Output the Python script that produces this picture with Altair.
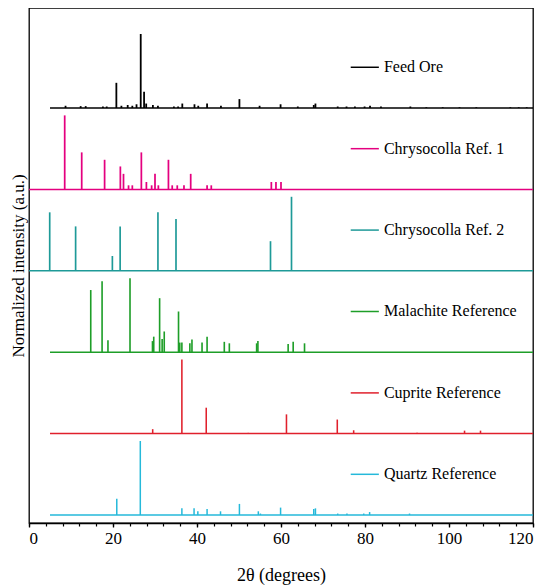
import altair as alt
import pandas as pd

names = ["Feed Ore", "Chrysocolla Ref. 1", "Chrysocolla Ref. 2",
         "Malachite Reference", "Cuprite Reference", "Quartz Reference"]
colors = ["#000000", "#E4007F", "#1E9A98", "#1E9E28", "#E0202C", "#25B9DA"]
offsets = [5.5, 4.4, 3.3, 2.2, 1.1, 0.0]
base_start = [5, 0, 0, 5, 5, 5]
base_end = [120, 120, 120, 120, 120, 120]

feed_theta = [8.7, 12.3, 13.5, 17.6, 18.5, 20.8, 22.0, 23.5, 24.6, 25.6, 26.6, 27.4, 27.9,
              29.5, 30.7, 34.5, 35.5, 36.5, 39.4, 40.3, 42.4, 45.7, 50.1, 54.9, 59.9, 64.0,
              67.8, 68.2, 73.5, 75.6, 77.6, 79.9, 81.2, 83.8, 90.8, 94.6, 98.5, 102.5, 106.5,
              114.6, 116.6, 118.5]
feed_int = [0.03, 0.025, 0.025, 0.02, 0.02, 0.34, 0.03, 0.04, 0.03, 0.05, 1.0, 0.22, 0.06,
            0.04, 0.03, 0.02, 0.02, 0.06, 0.05, 0.03, 0.06, 0.03, 0.12, 0.03, 0.05, 0.02,
            0.04, 0.06, 0.02, 0.02, 0.02, 0.02, 0.03, 0.02, 0.02, 0.01, 0.01, 0.01, 0.01,
            0.01, 0.01, 0.01]

pink_theta = [8.5, 12.55, 18.0, 21.75, 22.5, 23.7, 24.6, 26.75, 27.95, 29.2, 30.0, 30.8,
              33.2, 34.1, 35.3, 36.9, 38.5, 42.4, 43.4, 57.7, 58.8, 60.0]
pink_int = [1.0, 0.50, 0.40, 0.31, 0.21, 0.055, 0.055, 0.50, 0.10, 0.055, 0.21, 0.055,
            0.40, 0.055, 0.055, 0.055, 0.21, 0.055, 0.055, 0.10, 0.10, 0.10]

teal_theta = [4.93, 11.1, 19.85, 21.7, 30.7, 35.0, 57.5, 62.5]
teal_int = [0.79, 0.60, 0.20, 0.60, 0.79, 0.70, 0.40, 1.0]

green_theta = [14.7, 17.4, 18.8, 24.05, 29.4, 29.7, 31.1, 31.7, 32.2, 35.6, 35.9, 36.4,
               38.3, 38.8, 41.2, 42.4, 46.5, 47.7, 54.2, 54.5, 61.7, 62.9, 65.6]
green_int = [0.84, 0.96, 0.16, 1.0, 0.15, 0.21, 0.73, 0.18, 0.28, 0.55, 0.13, 0.13,
             0.12, 0.17, 0.13, 0.21, 0.14, 0.12, 0.12, 0.15, 0.11, 0.14, 0.12]

red_theta = [29.45, 36.4, 42.2, 52.2, 61.3, 73.4, 77.3, 92.4, 103.7, 107.5]
red_int = [0.06, 1.0, 0.35, 0.01, 0.26, 0.19, 0.045, 0.01, 0.04, 0.04]

cyan_theta = [20.9, 26.5, 36.4, 39.3, 40.2, 42.4, 45.6, 50.1, 54.6, 55.1, 59.9, 67.8, 68.2,
              73.5, 75.7, 79.7, 81.1, 90.6]
cyan_int = [0.22, 1.0, 0.09, 0.09, 0.05, 0.08, 0.05, 0.15, 0.05, 0.02, 0.10, 0.08, 0.09,
            0.02, 0.02, 0.02, 0.04, 0.02]

x_ticks = [0, 20, 40, 60, 80, 100, 120]
x_minor = list(range(0, 121, 4))

series = [(feed_theta, feed_int), (pink_theta, pink_int), (teal_theta, teal_int),
          (green_theta, green_int), (red_theta, red_int), (cyan_theta, cyan_int)]

rows = []
for name, off, (th, it) in zip(names, offsets, series):
    for t, v in zip(th, it):
        rows.append({"name": name, "theta": t, "inten": v, "offset": off})
peaks = pd.DataFrame(rows)

bases = pd.DataFrame({"name": names, "offset": offsets, "start": base_start, "end": base_end})

FONT = "Liberation Serif"
color = alt.Color("name:N", scale=alt.Scale(domain=names, range=colors), legend=None)
xscale = alt.Scale(domain=[0, 120], nice=False, zero=False)
yscale = alt.Scale(domain=[-0.108, 6.851], nice=False, zero=False)

yaxis = alt.Axis(title="Normalized intensity (a.u.)", labels=False, ticks=False, domain=False,
                 grid=False, titleFont=FONT, titleFontSize=17, titleFontWeight="normal",
                 titleColor="black", titlePadding=2)

major_axis = alt.Axis(values=x_ticks, orient="bottom", title="2θ (degrees)", grid=False,
                      labelFont=FONT, labelFontSize=17, labelColor="black", labelPadding=3,
                      tickSize=4, tickColor="black", tickWidth=1.3,
                      domainColor="black", domainWidth=1.3,
                      titleFont=FONT, titleFontSize=18, titleFontWeight="normal",
                      titleColor="black", titlePadding=20)
minor_axis = alt.Axis(values=x_minor, orient="bottom", title=None, labels=False, grid=False,
                      tickSize=3, tickColor="black", tickWidth=1.2, domain=False)

sticks = alt.Chart(peaks).transform_calculate(
    top="datum.offset + datum.inten"
).mark_rule().encode(
    x=alt.X("theta:Q", scale=xscale, axis=major_axis),
    y=alt.Y("top:Q", scale=yscale, axis=yaxis),
    y2="offset:Q",
    color=color,
    strokeWidth=alt.StrokeWidth("name:N", scale=alt.Scale(domain=names,
                                range=[1.8, 1.5, 1.5, 1.5, 1.5, 1.5]), legend=None),
)

baselines = alt.Chart(bases).mark_rule(strokeWidth=1.5).encode(
    x=alt.X("start:Q", scale=xscale, axis=minor_axis),
    x2="end:Q",
    y=alt.Y("offset:Q", scale=yscale, axis=yaxis),
    color=color,
)

legend_seg = alt.Chart(bases).transform_calculate(
    ly="datum.offset + 0.55"
).mark_rule(strokeWidth=1.5).encode(
    x=alt.XDatum(76.6, scale=xscale, axis=None),
    x2=alt.X2Datum(83.3),
    y=alt.Y("ly:Q", scale=yscale, axis=yaxis),
    color=color,
)

legend_txt = alt.Chart(bases).transform_calculate(
    ly="datum.offset + 0.55"
).mark_text(align="left", baseline="middle", font=FONT, fontSize=16, color="black").encode(
    x=alt.XDatum(84.5, scale=xscale, axis=None),
    y=alt.Y("ly:Q", scale=yscale, axis=yaxis),
    text="name:N",
)

chart = alt.layer(sticks, baselines, legend_seg, legend_txt).resolve_axis(
    x="independent"
).properties(
    width=504, height=515,
    autosize=alt.AutoSizeParams(type="none"),
    padding={"left": 21, "top": 0, "right": 9, "bottom": 64},
).configure_view(stroke="black", strokeWidth=1.3)

chart.save("out.html", embed_options={"renderer": "svg", "actions": False})
